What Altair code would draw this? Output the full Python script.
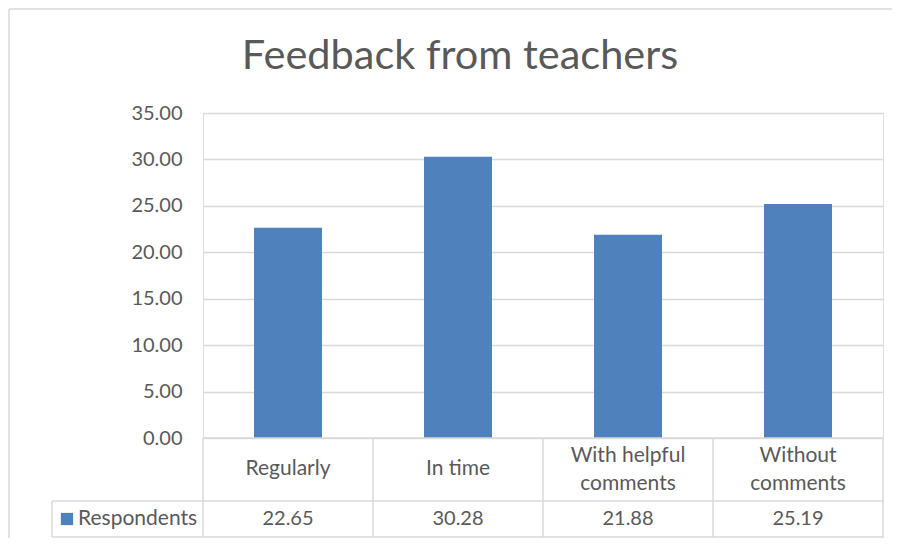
import altair as alt
import pandas as pd

categories = ["Regularly", "In time", "With helpful\ncomments", "Without\ncomments"]
values = [22.65, 30.28, 21.88, 25.19]
series_name = "Respondents"
title_text = "Feedback from teachers"
y_ticks = [0, 5, 10, 15, 20, 25, 30, 35]

W, H = 680, 325
FONT = "Lato"
TXT = "#595959"
GRID = "#d9d9d9"
BAR = "#4F81BD"

df = pd.DataFrame({"cat": categories, "val": values,
                   "nlines": [c.count("\n") + 1 for c in categories]})

xscale = alt.Scale(domain=categories, paddingInner=0.6, paddingOuter=0.3)
xenc = alt.X("cat:N", scale=xscale, axis=None, sort=categories)

bars = alt.Chart(df).mark_bar(color=BAR).encode(
    x=xenc,
    y=alt.Y("val:Q", scale=alt.Scale(domain=[0, 35], nice=False),
            axis=alt.Axis(values=y_ticks, format=".2f", title=None, domain=False, ticks=False,
                          labelPadding=21, labelFontSize=20, labelFont=FONT, labelColor=TXT,
                          gridColor=GRID, gridWidth=1.3)),
)

cat_text1 = alt.Chart(df).transform_filter("datum.nlines == 1").mark_text(
    font=FONT, fontSize=21, color=TXT, baseline="middle").encode(
    x=xenc, y=alt.value(H + 31), text="cat:N")
cat_text2 = alt.Chart(df).transform_filter("datum.nlines == 2").mark_text(
    font=FONT, fontSize=21, color=TXT, baseline="middle",
    lineBreak="\n", lineHeight=28).encode(
    x=xenc, y=alt.value(H + 18), text="cat:N")

val_text = alt.Chart(df).mark_text(font=FONT, fontSize=20, color=TXT, baseline="middle").encode(
    x=xenc, y=alt.value(H + 81), text=alt.Text("val:Q", format=".2f"))

one = pd.DataFrame({"a": [0]})
step = W / len(categories)
rows_top, rows_mid, rows_bot = H, H + 63, H + 99
leg_left = -151

lines = []
lines.append(alt.Chart(one).mark_rule(color=GRID, strokeWidth=1.5).encode(
    x=alt.value(0), x2=alt.value(W + 1), y=alt.value(rows_top)))
for yy in (rows_mid, rows_bot):
    lines.append(alt.Chart(one).mark_rule(color=GRID, strokeWidth=1.5).encode(
        x=alt.value(leg_left), x2=alt.value(W + 1), y=alt.value(yy)))
for i in range(len(categories) + 1):
    lines.append(alt.Chart(one).mark_rule(color=GRID, strokeWidth=1.5).encode(
        x=alt.value(i * step), y=alt.value(rows_top), y2=alt.value(rows_bot)))
lines.append(alt.Chart(one).mark_rule(color=GRID, strokeWidth=1.5).encode(
    x=alt.value(leg_left), y=alt.value(rows_mid), y2=alt.value(rows_bot)))
# outer chart border
lines.append(alt.Chart(one).mark_rule(color=GRID, strokeWidth=1.5).encode(
    x=alt.value(-194), x2=alt.value(W + 12), y=alt.value(-104)))
lines.append(alt.Chart(one).mark_rule(color=GRID, strokeWidth=1.5).encode(
    x=alt.value(-194), y=alt.value(-104), y2=alt.value(H + 110)))

legend_sq = alt.Chart(pd.DataFrame({"s": [series_name]})).mark_square(
    color=BAR, size=150, opacity=1, filled=True).encode(
    x=alt.value(-136), y=alt.value((rows_mid + rows_bot) / 2))
legend_txt = alt.Chart(pd.DataFrame({"s": [series_name]})).mark_text(
    font=FONT, fontSize=21, color=TXT, align="left", baseline="middle").encode(
    x=alt.value(-125), y=alt.value((rows_mid + rows_bot) / 2), text="s:N")

title = alt.Chart(pd.DataFrame({"t": [title_text]})).mark_text(
    font=FONT, fontSize=41.5, color=TXT, align="center", baseline="middle").encode(
    x=alt.value(257), y=alt.value(-56), text="t:N")

chart = alt.layer(bars, cat_text1, cat_text2, val_text, *lines, legend_sq, legend_txt, title).properties(
    width=W, height=H,
    autosize=alt.AutoSizeParams(type="none"),
    padding={"left": 195, "top": 105, "right": 9, "bottom": 100},
).configure_view(stroke=None).configure(background="white")

chart.save("out.html", embed_options={"renderer": "svg", "actions": False})
